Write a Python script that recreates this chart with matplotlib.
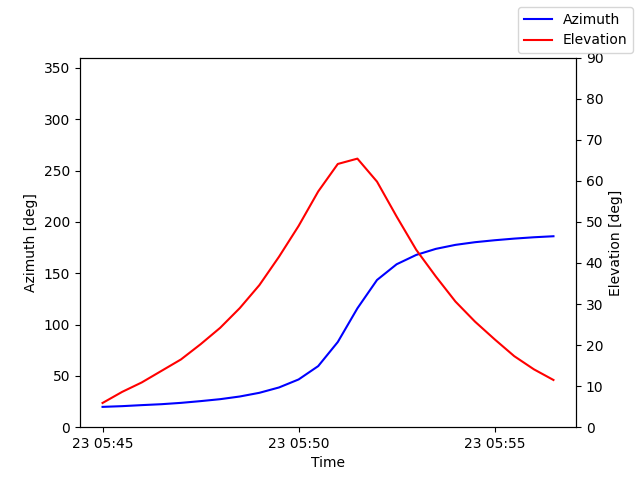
import numpy as np
import pandas as pd
import matplotlib
matplotlib.use("Agg")
import matplotlib.pyplot as plt
import matplotlib.dates as mdates

# czasy co 30 s
czas = pd.date_range("2023-05-23 05:45:00", periods=24, freq="30s")

azymut = [19.8, 20.5, 21.5, 22.4, 23.7, 25.4, 27.3, 29.9, 33.5, 38.7, 46.5, 59.5,
          83.0, 115.8, 143.4, 158.7, 167.8, 173.7, 177.6, 180.2, 182.1, 183.7, 185.0, 186.0]
elewacja = [5.9, 8.6, 10.9, 13.7, 16.5, 20.2, 24.2, 29.0, 34.6, 41.5, 49.0, 57.4,
            64.1, 65.4, 59.8, 51.3, 43.2, 36.7, 30.6, 25.7, 21.4, 17.3, 14.1, 11.5]

fig, ax1 = plt.subplots(figsize=(6.4, 4.8), dpi=100)
ax2 = ax1.twinx()

l1, = ax1.plot(czas, azymut, color="blue", label="Azimuth")
l2, = ax2.plot(czas, elewacja, color="red", label="Elevation")

ax1.set_ylim(0, 360)
ax2.set_ylim(0, 90)
ax1.set_yticks(np.arange(0, 351, 50))
ax2.set_yticks(np.arange(0, 91, 10))

ax1.set_xlabel("Time")
ax1.set_ylabel("Azimuth [deg]")
ax2.set_ylabel("Elevation [deg]")

ax1.xaxis.set_major_locator(mdates.MinuteLocator(byminute=range(0, 60, 5)))
ax1.xaxis.set_major_formatter(mdates.DateFormatter("%d %H:%M"))

fig.legend(handles=[l1, l2], loc="upper right")

fig.savefig("out.png")
